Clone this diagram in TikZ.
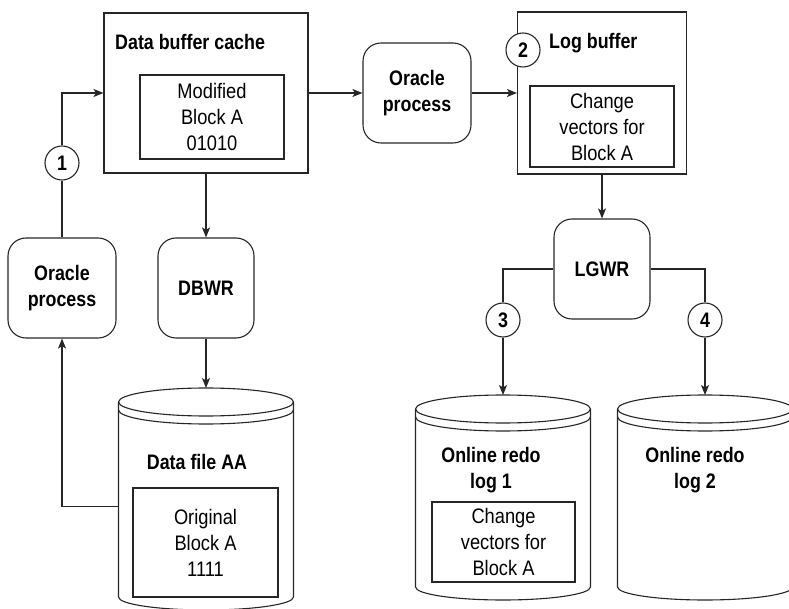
\documentclass[tikz,border=0pt]{standalone}
\usepackage{fontspec}
\setmainfont{Liberation Sans}[FakeStretch=0.87,BoldFeatures={FakeStretch=0.85}]
\usepackage{tikz}
\usetikzlibrary{arrows.meta,positioning}
\newcommand{\figfont}{\fontsize{21}{26}\selectfont}
\tikzstyle{wire} = [line width=1.1pt, draw=black!85]
\tikzstyle{arrow} = [wire, -{Stealth[length=10pt,width=8pt,inset=2.5pt]}]
\tikzstyle{bufbox} = [rectangle, draw=black!85, line width=1.1pt, inner sep=0pt]
\tikzstyle{blockbox} = [rectangle, draw=black!85, line width=1.1pt, inner sep=0pt, align=center, font=\figfont]
\tikzstyle{procbox} = [rectangle, rounded corners=18pt, draw=black!85, line width=1.1pt, minimum height=100pt, align=center, font=\figfont\bfseries]
\tikzstyle{stepnum} = [circle, draw=black!85, line width=1.1pt, minimum size=34pt, inner sep=0pt, fill=white, font=\figfont\bfseries]
\tikzstyle{title} = [inner sep=0pt, align=center, font=\figfont\bfseries]
\tikzstyle{drumbox} = [rectangle, minimum width=175pt, inner sep=0pt, anchor=north]
% disk drawn as a drum with two rings on top
\newcommand{\drumcyl}[4]{%
  \node (#1) [drumbox, minimum height={#3-(#4)}] at (#2,#3) {};
  \draw[wire] (#2-87.5,#3-14) -- (#2-87.5,#4) arc[start angle=180,end angle=360,x radius=87.5,y radius=13]
    -- (#2+87.5,#3-14) arc[start angle=0,end angle=180,x radius=87.5,y radius=14] -- cycle;
  \draw[wire] (#2-87.5,#3-14) arc[start angle=180,end angle=360,x radius=87.5,y radius=14];
  \draw[wire] (#2-87.5,#3-22) arc[start angle=180,end angle=360,x radius=87.5,y radius=14];
}
\begin{document}
\begin{tikzpicture}[x=1pt,y=1pt]
\useasboundingbox (0,0) rectangle (789,608);
% Buffer cache and its writer
\node (dbc) [bufbox, minimum width=204pt, minimum height=160pt] at (206,515) {};
\node (dbctitle) [title, anchor=west] at (115,566) {Data buffer cache};
\node (modblk) [blockbox, minimum width=144pt, minimum height=84pt] at (212,491) {Modified\\Block A\\01010};
\node (dbwr) [procbox, minimum width=96pt, below of=dbc, node distance=195pt] {DBWR};
\node (orap1) [procbox, minimum width=108pt, left of=dbwr, node distance=144pt] {Oracle\\process};
\node (c1) [stepnum] at (62,445) {1};

% Data file
\drumcyl{dfa}{206}{220}{11}
\node (dfatitle) [title] at (197,146) {Data file AA};
\node (origblk) [blockbox, minimum width=145pt, minimum height=109pt] at (205.5,65.5) {Original\\Block A\\1111};

% Redo side
\node (orap2) [procbox, minimum width=108pt, right of=dbc, node distance=211pt] {Oracle\\process};
\node (lbuf) [bufbox, minimum width=169pt, minimum height=162pt] at (602,515) {};
\node (lbuftitle) [title, anchor=west] at (549,565) {Log buffer};
\node (c2) [stepnum] at (523,558) {2};
\node (chg1) [blockbox, minimum width=144pt, minimum height=81pt] at (602,481.5) {Change\\vectors for\\Block A};
\node (lgwr) [procbox, minimum width=96pt, below of=lbuf, node distance=176pt] {LGWR};
\node (c3) [stepnum] at (503,288) {3};
\node (c4) [stepnum] at (705,288) {4};

% Online redo logs
\drumcyl{redo1}{503}{213}{21}
\node (redo1title) [title] at (491,137.5) {Online redo\\log 1};
\node (chg2) [blockbox, minimum width=143pt, minimum height=80pt] at (503.5,66) {Change\\vectors for\\Block A};
\drumcyl{redo2}{705}{213}{21}
\node (redo2title) [title] at (695,137.5) {Online redo\\log 2};

% Connectors
\draw[wire] (orap1) -- (c1);
\draw[arrow] (c1) |- (dbc.west);
\draw[arrow] (dbc) -- (dbwr);
\draw[arrow] (dbwr) -- (dfa);
\draw[arrow] ([yshift=-14pt]dfa.west) -| (orap1);
\draw[arrow] (dbc) -- (orap2);
\draw[arrow] (orap2) -- (lbuf);
\draw[arrow] (lbuf) -- (lgwr);
\draw[wire] (lgwr) -| (c3);
\draw[arrow] (c3) -- (redo1);
\draw[wire] (lgwr) -| (c4);
\draw[arrow] (c4) -- (redo2);
\end{tikzpicture}
\end{document}
